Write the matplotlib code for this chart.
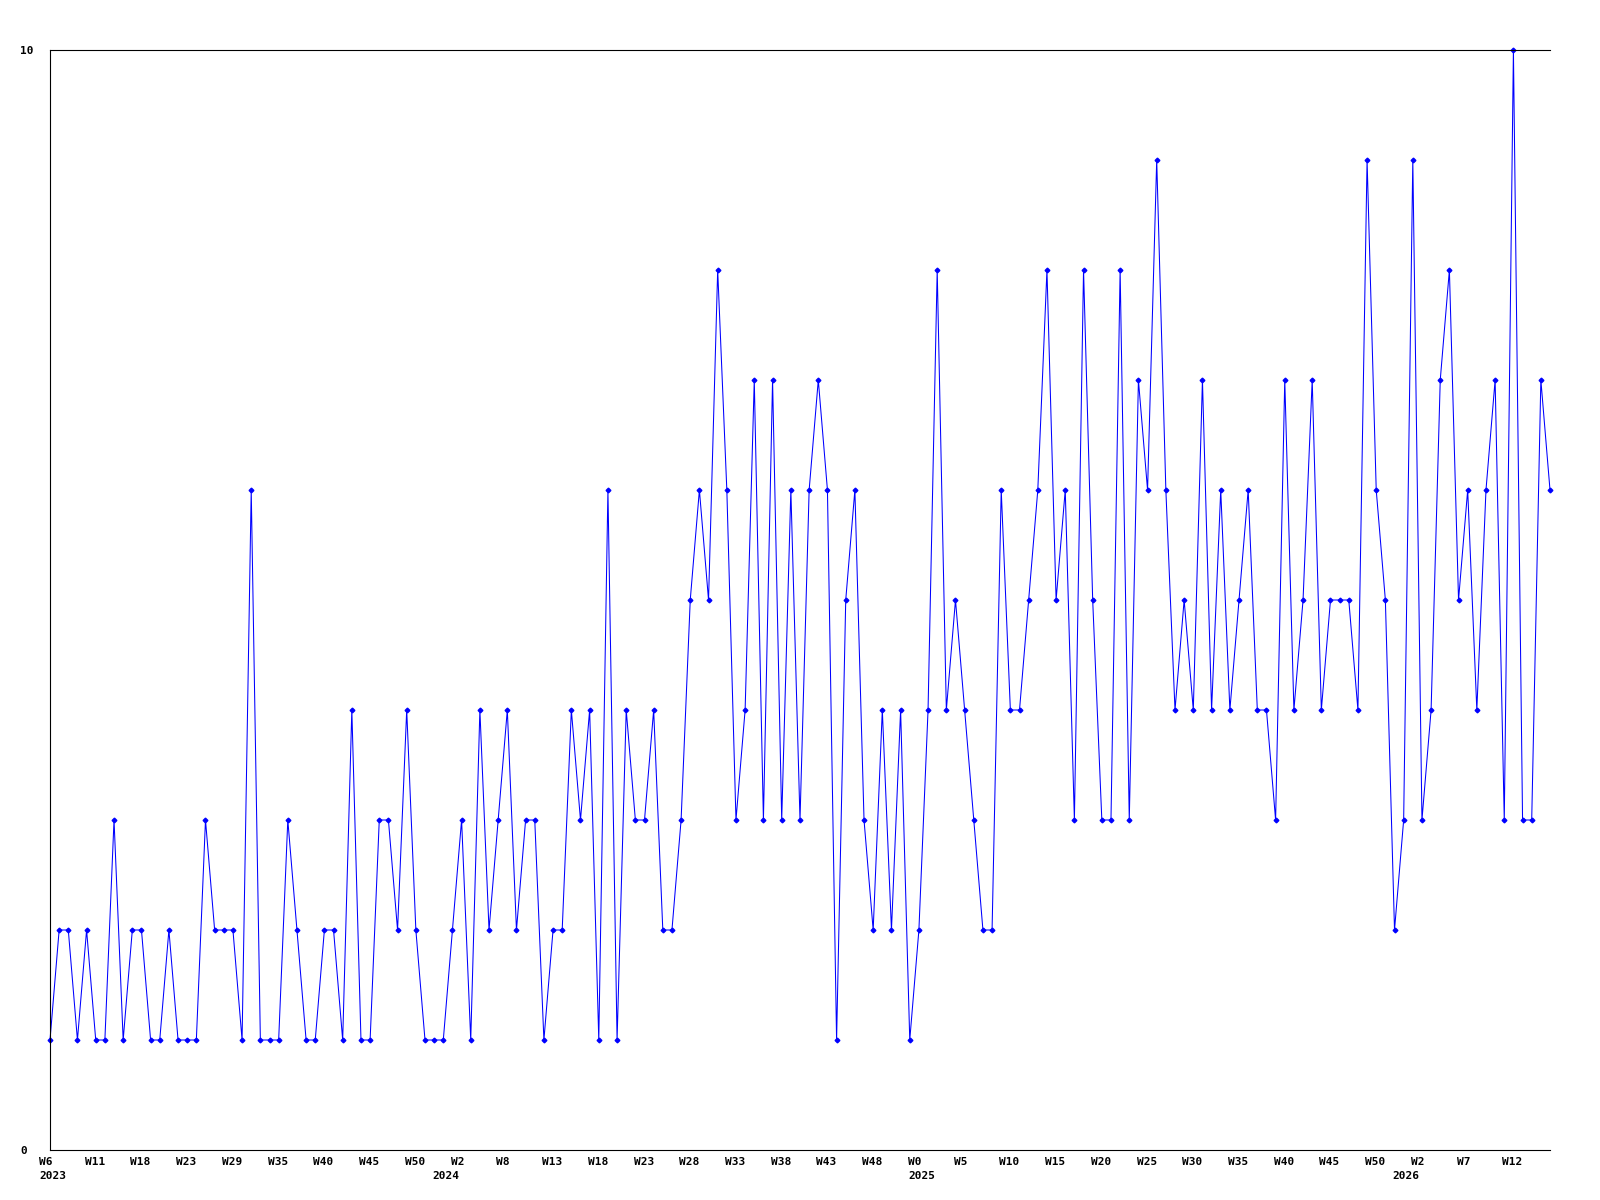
import numpy as np
import matplotlib
matplotlib.use("Agg")
import matplotlib.pyplot as plt
from matplotlib.transforms import ScaledTranslation, blended_transform_factory

# Weekly counts, 2023 W6 onward
values = [1, 2, 2, 1, 2, 1, 1, 3, 1, 2,
          2, 1, 1, 2, 1, 1, 1, 3, 2, 2,
          2, 1, 6, 1, 1, 1, 3, 2, 1, 1,
          2, 2, 1, 4, 1, 1, 3, 3, 2, 4,
          2, 1, 1, 1, 2, 3, 1, 4, 2, 3,
          4, 2, 3, 3, 1, 2, 2, 4, 3, 4,
          1, 6, 1, 4, 3, 3, 4, 2, 2, 3,
          5, 6, 5, 8, 6, 3, 4, 7, 3, 7,
          3, 6, 3, 6, 7, 6, 1, 5, 6, 3,
          2, 4, 2, 4, 1, 2, 4, 8, 4, 5,
          4, 3, 2, 2, 6, 4, 4, 5, 6, 8,
          5, 6, 3, 8, 5, 3, 3, 8, 3, 7,
          6, 9, 6, 4, 5, 4, 7, 4, 6, 4,
          5, 6, 4, 4, 3, 7, 4, 5, 7, 4,
          5, 5, 5, 4, 9, 6, 5, 2, 3, 9,
          3, 4, 7, 8, 5, 6, 4, 6, 7, 3,
          10, 3, 3, 7, 6]

week_labels = ["W6", "W11", "W18", "W23", "W29", "W35", "W40", "W45", "W50",
               "W2", "W8", "W13", "W18", "W23", "W28", "W33", "W38", "W43", "W48",
               "W0", "W5", "W10", "W15", "W20", "W25", "W30", "W35", "W40", "W45", "W50",
               "W2", "W7", "W12"]
year_labels = ["2023", "2024", "2025", "2026"]
year_start_index = [0, 43, 95, 148]

y_labels = ["0", "10"]
y_ticks = [0, 10]

font = dict(family="DejaVu Sans Mono", fontsize=8, fontweight="bold")

fig = plt.figure(figsize=(16, 12), dpi=100)
ax = fig.add_axes([50 / 1600, 50 / 1200, 1500 / 1600, 1100 / 1200])

x = np.arange(len(values))
ax.plot(x, values, color="#0000ff", linewidth=0.75, marker="D", markersize=2.4,
        markerfacecolor="#0000ff", markeredgecolor="#0000ff", clip_on=False)

ax.set_xlim(0, len(values) - 1)
ax.set_ylim(0, 10)

for s in ["left", "top", "bottom"]:
    ax.spines[s].set_linewidth(0.8)
    ax.spines[s].set_color("black")
ax.spines["right"].set_visible(False)

# x tick labels every 5 weeks, left-aligned slightly before the tick
tick_pos = np.arange(0, len(values), 5)[:len(week_labels)]
ax.set_xticks(tick_pos)
ax.set_xticklabels(week_labels, ha="left", **font)
ax.tick_params(axis="x", length=0, pad=5)
off = ScaledTranslation(-11 / 100, 0, fig.dpi_scale_trans)
for lab in ax.get_xticklabels():
    lab.set_transform(lab.get_transform() + off)

ax.set_yticks(y_ticks)
ax.set_yticklabels(y_labels, ha="left", **font)
ax.tick_params(axis="y", length=0, pad=21.6)

trans = blended_transform_factory(ax.transData, ax.transAxes) + \
    ScaledTranslation(-11 / 100, -21 / 100, fig.dpi_scale_trans)
for lbl, xi in zip(year_labels, year_start_index):
    ax.text(xi, 0, lbl, transform=trans, ha="left", va="top", **font)

fig.savefig("out.png", dpi=100, facecolor="white")
